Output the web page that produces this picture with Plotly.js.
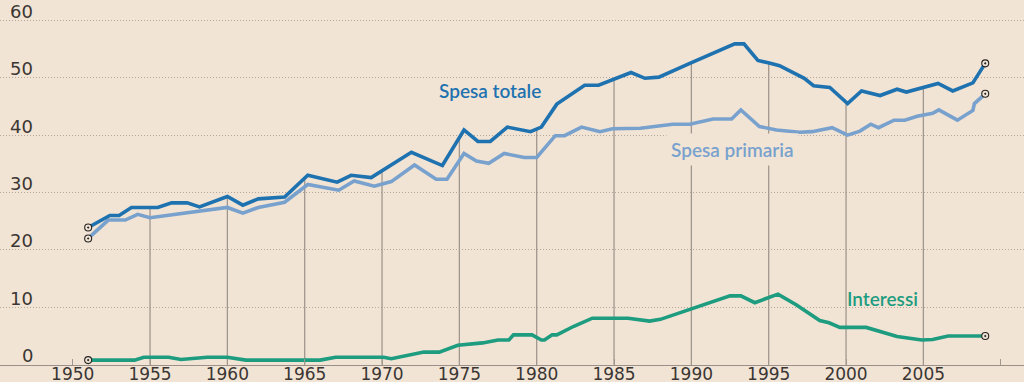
<!DOCTYPE html>
<html>
<head>
<meta charset="utf-8">
<script src="https://cdn.plot.ly/plotly-3.0.1.min.js"></script>
<style>
  html, body { margin: 0; padding: 0; background: #f2e4d5; }
  #chart { width: 1024px; height: 382px; }
</style>
</head>
<body>
<div id="chart"></div>
<script>
// ---- Data (percent of GDP) ----
const yearsTotale = [1951.0, 1952.4, 1953.0, 1953.8, 1955.5, 1956.4, 1957.4, 1958.2, 1960.0, 1961.0,
  1962.0, 1963.7, 1965.2, 1967.1, 1968.0, 1969.3, 1971.9, 1973.9, 1975.3, 1976.2,
  1977.0, 1978.1, 1979.6, 1980.3, 1981.3, 1983.1, 1984.0, 1986.1, 1987.0, 1987.9,
  1989.9, 1991.2, 1992.8, 1993.4, 1994.3, 1995.1, 1995.7, 1997.3, 1997.9, 1998.95,
  2000.1, 2001.0, 2002.2, 2003.3, 2003.9, 2005.95, 2006.9, 2008.2, 2009.0];
const spesaTotale = [23.9, 26.0, 26.0, 27.4, 27.4, 28.2, 28.2, 27.5, 29.3, 27.8,
  28.9, 29.2, 33.0, 31.8, 33.0, 32.6, 37.0, 34.7, 40.9, 38.9,
  38.9, 41.4, 40.6, 41.4, 45.4, 48.7, 48.7, 50.9, 49.9, 50.1,
  52.5, 54.0, 55.9, 55.9, 53.0, 52.5, 52.1, 49.9, 48.6, 48.3,
  45.5, 47.7, 46.9, 48.0, 47.5, 49.0, 47.7, 49.1, 52.5];

const yearsPrimaria = [1951.0, 1952.3, 1953.4, 1954.2, 1955.0, 1960.0, 1961.0, 1962.0, 1963.7, 1965.2,
  1967.2, 1968.2, 1969.5, 1970.6, 1972.1, 1973.5, 1974.2, 1975.3, 1976.1, 1976.9,
  1977.9, 1979.2, 1980.0, 1981.2, 1981.8, 1982.9, 1984.1, 1984.9, 1986.7, 1988.8,
  1989.9, 1991.4, 1992.6, 1993.2, 1994.4, 1995.5, 1997.0, 1997.8, 1999.1, 2000.1,
  2000.9, 2001.6, 2002.1, 2003.1, 2003.8, 2004.6, 2005.6, 2006.0, 2007.2, 2008.2,
  2008.3, 2009.0];
const spesaPrimaria = [22.0, 25.2, 25.2, 26.2, 25.6, 27.4, 26.4, 27.4, 28.3, 31.4,
  30.4, 32.0, 31.1, 31.9, 34.8, 32.3, 32.3, 36.8, 35.5, 35.1,
  36.8, 36.1, 36.1, 39.9, 39.9, 41.4, 40.6, 41.1, 41.2, 41.9,
  41.9, 42.8, 42.8, 44.4, 41.5, 40.9, 40.5, 40.6, 41.3, 40.0,
  40.7, 41.9, 41.3, 42.6, 42.6, 43.3, 43.8, 44.4, 42.6, 44.3,
  45.5, 47.2];

const yearsInteressi = [1951.0, 1954.0, 1954.6, 1956.2, 1957.0, 1958.7, 1960.0, 1961.2, 1966.0, 1967.0,
  1970.1, 1970.6, 1972.7, 1973.7, 1974.9, 1976.5, 1977.5, 1978.2, 1978.5, 1979.7,
  1980.3, 1980.5, 1981.0, 1981.3, 1982.4, 1983.6, 1985.9, 1987.3, 1988.0, 1992.5,
  1993.2, 1994.1, 1995.6, 1996.8, 1998.3, 1998.9, 1999.6, 2001.3, 2003.3, 2004.9,
  2005.6, 2006.6, 2009.0];
const interessi = [0.8, 0.8, 1.3, 1.3, 0.9, 1.3, 1.3, 0.8, 0.8, 1.3,
  1.3, 1.05, 2.2, 2.2, 3.4, 3.8, 4.3, 4.3, 5.2, 5.2,
  4.3, 4.3, 5.2, 5.2, 6.7, 8.1, 8.1, 7.6, 7.9, 12.0,
  12.0, 10.8, 12.3, 10.4, 7.7, 7.3, 6.5, 6.5, 4.9, 4.3,
  4.4, 5.0, 5.0];

const seriesNames = ['Spesa totale', 'Spesa primaria', 'Interessi'];
const tickYears = [1950, 1955, 1960, 1965, 1970, 1975, 1980, 1985, 1990, 1995, 2000, 2005, 2010];
const tickLabels = ['1950', '1955', '1960', '1965', '1970', '1975', '1980', '1985', '1990', '1995', '2000', '2005', ''];
const guideYears = [1955, 1960, 1965, 1970, 1975, 1980, 1985, 1990, 1995, 2000, 2005];
const yTicks = [0, 10, 20, 30, 40, 50, 60];
const yTickLabels = ['0', '10', '20', '30', '40', '50', '60'];

// ---- Styling ----
const BG = '#f2e4d5';
const C_TOT = '#1f72b0';
const C_PRI = '#78a2cd';
const C_INT = '#1d9c80';
const GUIDE = '#a0978f';

function valueAt(xs, ys, x) {
  for (let i = 0; i < xs.length - 1; i++) {
    if (x >= xs[i] && x <= xs[i + 1]) {
      const t = (x - xs[i]) / (xs[i + 1] - xs[i]);
      return ys[i] + t * (ys[i + 1] - ys[i]);
    }
  }
  return ys[ys.length - 1];
}

function endMarkers(xs, ys) {
  return {
    x: [xs[0], xs[xs.length - 1]],
    y: [ys[0], ys[ys.length - 1]],
    type: 'scatter', mode: 'markers', hoverinfo: 'skip', showlegend: false,
    marker: { symbol: 'circle-dot', size: 7, color: BG, line: { color: '#222', width: 1.1 } }
  };
}

const traces = [
  { x: yearsPrimaria, y: spesaPrimaria, name: seriesNames[1], type: 'scatter', mode: 'lines',
    line: { color: C_PRI, width: 3.6 } },
  { x: yearsTotale, y: spesaTotale, name: seriesNames[0], type: 'scatter', mode: 'lines',
    line: { color: C_TOT, width: 3.6 } },
  { x: yearsInteressi, y: interessi, name: seriesNames[2], type: 'scatter', mode: 'lines',
    line: { color: C_INT, width: 3.6 } },
  endMarkers(yearsTotale, spesaTotale),
  endMarkers(yearsPrimaria, spesaPrimaria),
  endMarkers(yearsInteressi, interessi)
];

const shapes = guideYears.map(yr => ({
  type: 'line', xref: 'x', yref: 'y', layer: 'between',
  x0: yr, x1: yr, y0: 0, y1: valueAt(yearsTotale, spesaTotale, yr),
  line: { color: GUIDE, width: 1.3 }
}));

const labelFont = { family: 'Lato, "Open Sans", sans-serif', size: 19, weight: 600 };

const annotations = [
  { text: seriesNames[0], x: 1976.95, y: 47.77, xref: 'x', yref: 'y', showarrow: false,
    font: Object.assign({}, labelFont, { color: C_TOT }) },
  { text: seriesNames[1], x: 1992.69, y: 37.58, xref: 'x', yref: 'y', showarrow: false,
    bgcolor: BG, borderpad: 4,
    font: Object.assign({}, labelFont, { color: C_PRI }) },
  { text: seriesNames[2], x: 2002.36, y: 11.57, xref: 'x', yref: 'y', showarrow: false,
    font: Object.assign({}, labelFont, { color: C_INT }) }
].concat(yTicks.map((v, i) => ({
  text: yTickLabels[i], x: 35 / 1024, y: v, xref: 'paper', yref: 'y',
  xanchor: 'right', yanchor: 'middle', yshift: 9, showarrow: false,
  font: { family: '"DejaVu Sans", sans-serif', size: 18, color: '#3a3633' }
})));

const layout = {
  width: 1024, height: 382,
  paper_bgcolor: BG, plot_bgcolor: BG,
  margin: { l: 0, r: 0, t: 0, b: 17, pad: 0 },
  showlegend: false,
  xaxis: {
    range: [1945.300, 2011.506], fixedrange: true,
    tickmode: 'array', tickvals: tickYears, ticktext: tickLabels,
    ticks: 'inside', ticklen: 6, tickwidth: 1, tickcolor: GUIDE,
    ticklabelstandoff: -6,
    showgrid: false, zeroline: false,
    showline: true, linecolor: '#9a9089', linewidth: 1,
    tickfont: { family: '"DejaVu Sans", sans-serif', size: 17, color: '#3a3633' }
  },
  yaxis: {
    range: [-0.05, 63.54], fixedrange: true,
    tickmode: 'array', tickvals: yTicks.slice(1),
    showticklabels: false, ticks: '',
    showgrid: true, gridcolor: '#b3a79b', gridwidth: 1, griddash: '1px,2px',
    zeroline: false, showline: false
  },
  shapes: shapes,
  annotations: annotations
};

Plotly.newPlot('chart', traces, layout, { displayModeBar: false, staticPlot: true });
</script>
</body>
</html>
